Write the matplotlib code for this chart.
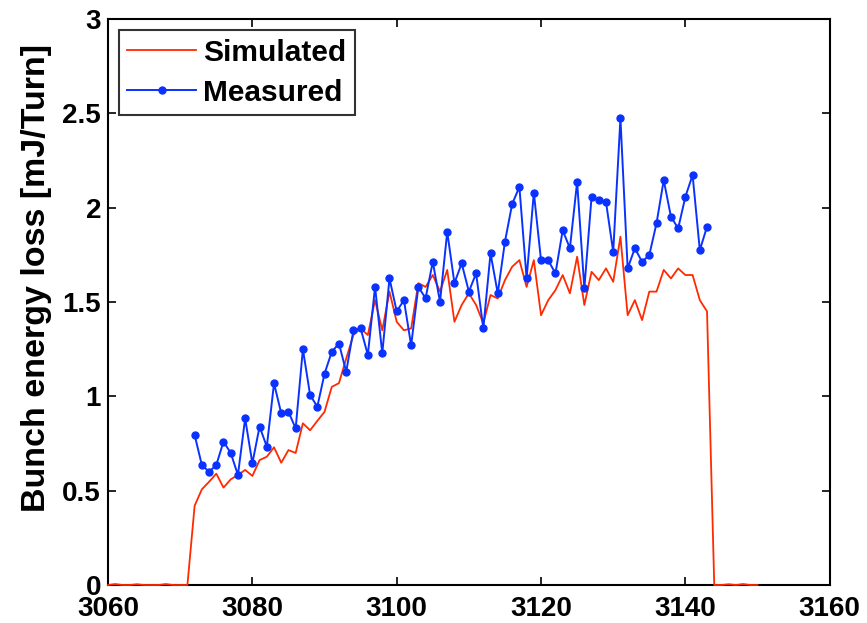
import numpy as np
import matplotlib
matplotlib.use("Agg")
import matplotlib.pyplot as plt

# Simulated series (turn index -> energy loss)
sim_x = list(range(3060, 3151))
sim_y = [0.0, 0.005, 0.0, 0.0, 0.004, 0.0, 0.0, 0.0, 0.005, 0.0, 0.0, 0.0,   # 3060-3071
         0.42, 0.507, 0.547, 0.59, 0.516, 0.56, 0.583, 0.61, 0.578, 0.662,   # 3072-3081
         0.68, 0.73, 0.648, 0.715, 0.70, 0.857, 0.82, 0.87, 0.918, 1.05,      # 3082-3091
         1.07, 1.20, 1.325, 1.36, 1.325, 1.51, 1.35, 1.555, 1.395, 1.35,      # 3092-3101
         1.36, 1.60, 1.58, 1.643, 1.555, 1.67, 1.395, 1.484, 1.546, 1.484,    # 3102-3111
         1.387, 1.537, 1.519, 1.616, 1.687, 1.722, 1.58, 1.722, 1.43, 1.51,   # 3112-3121
         1.563, 1.643, 1.546, 1.74, 1.484, 1.66, 1.616, 1.678, 1.607, 1.846,  # 3122-3131
         1.43, 1.51, 1.404, 1.555, 1.555, 1.67, 1.625, 1.678, 1.643, 1.643,   # 3132-3141
         1.51, 1.45,                                                          # 3142-3143
         0.0, 0.0, 0.004, 0.0, 0.005, 0.0, 0.0]                               # 3144-3150

# Measured series
meas_x = list(range(3072, 3144))
meas_y = [0.795, 0.636, 0.60, 0.636, 0.76, 0.70, 0.583, 0.883, 0.645, 0.84,   # 3072-3081
          0.733, 1.069, 0.91, 0.918, 0.83, 1.25, 1.007, 0.945, 1.12, 1.236,   # 3082-3091
          1.28, 1.13, 1.35, 1.36, 1.22, 1.58, 1.228, 1.625, 1.45, 1.51,       # 3092-3101
          1.27, 1.58, 1.52, 1.713, 1.50, 1.872, 1.60, 1.705, 1.555, 1.652,    # 3102-3111
          1.36, 1.758, 1.546, 1.82, 2.02, 2.11, 1.625, 2.08, 1.72, 1.72,      # 3112-3121
          1.652, 1.88, 1.785, 2.137, 1.572, 2.058, 2.04, 2.03, 1.766, 2.473,  # 3122-3131
          1.678, 1.785, 1.713, 1.749, 1.917, 2.146, 1.952, 1.89, 2.058, 2.173,# 3132-3141
          1.775, 1.899]                                                       # 3142-3143

x_ticks = [3060, 3080, 3100, 3120, 3140, 3160]
y_ticks = [0, 0.5, 1, 1.5, 2, 2.5, 3]
y_tick_labels = ["0", "0.5", "1", "1.5", "2", "2.5", "3"]

plt.rcParams['font.family'] = ['Liberation Sans', 'DejaVu Sans']
plt.rcParams['font.weight'] = 'bold'

fig = plt.figure(figsize=(8.67, 6.23), dpi=100)
ax = fig.add_axes([0.1246, 0.061, 0.957 - 0.1246, 0.9695 - 0.061])

ax.plot(sim_x, sim_y, color='#FF2a00', lw=1.3, label='Simulated',
        zorder=3, clip_on=False)
ax.plot(meas_x, meas_y, color='#0a32ff', lw=1.4, marker='o', markersize=5,
        label='Measured', zorder=3)

ax.set_xlim(3060, 3160)
ax.set_ylim(0, 3)
ax.set_xticks(x_ticks)
ax.set_yticks(y_ticks)
ax.set_yticklabels(y_tick_labels)
ax.tick_params(direction='in', top=True, right=True, length=6, width=1.2,
               labelsize=20, pad=5)
ax.tick_params(axis='x', pad=8)
for lab in ax.get_xticklabels() + ax.get_yticklabels():
    lab.set_fontweight('bold')
for s in ax.spines.values():
    s.set_linewidth(1.5)

ax.set_ylabel('Bunch energy loss [mJ/Turn]', fontsize=24.5, fontweight='bold')
ax.yaxis.set_label_coords(-0.077, 0.542)

leg = ax.legend(loc='upper left', bbox_to_anchor=(0.015, 0.98), fontsize=21.5,
                frameon=True, fancybox=False, edgecolor='black',
                handlelength=2.3, borderpad=0.28, labelspacing=0.4,
                handletextpad=0.25, borderaxespad=0)
leg.get_frame().set_linewidth(1.5)
for t in leg.get_texts():
    t.set_fontweight('bold')

fig.savefig('out.png', dpi=100)
